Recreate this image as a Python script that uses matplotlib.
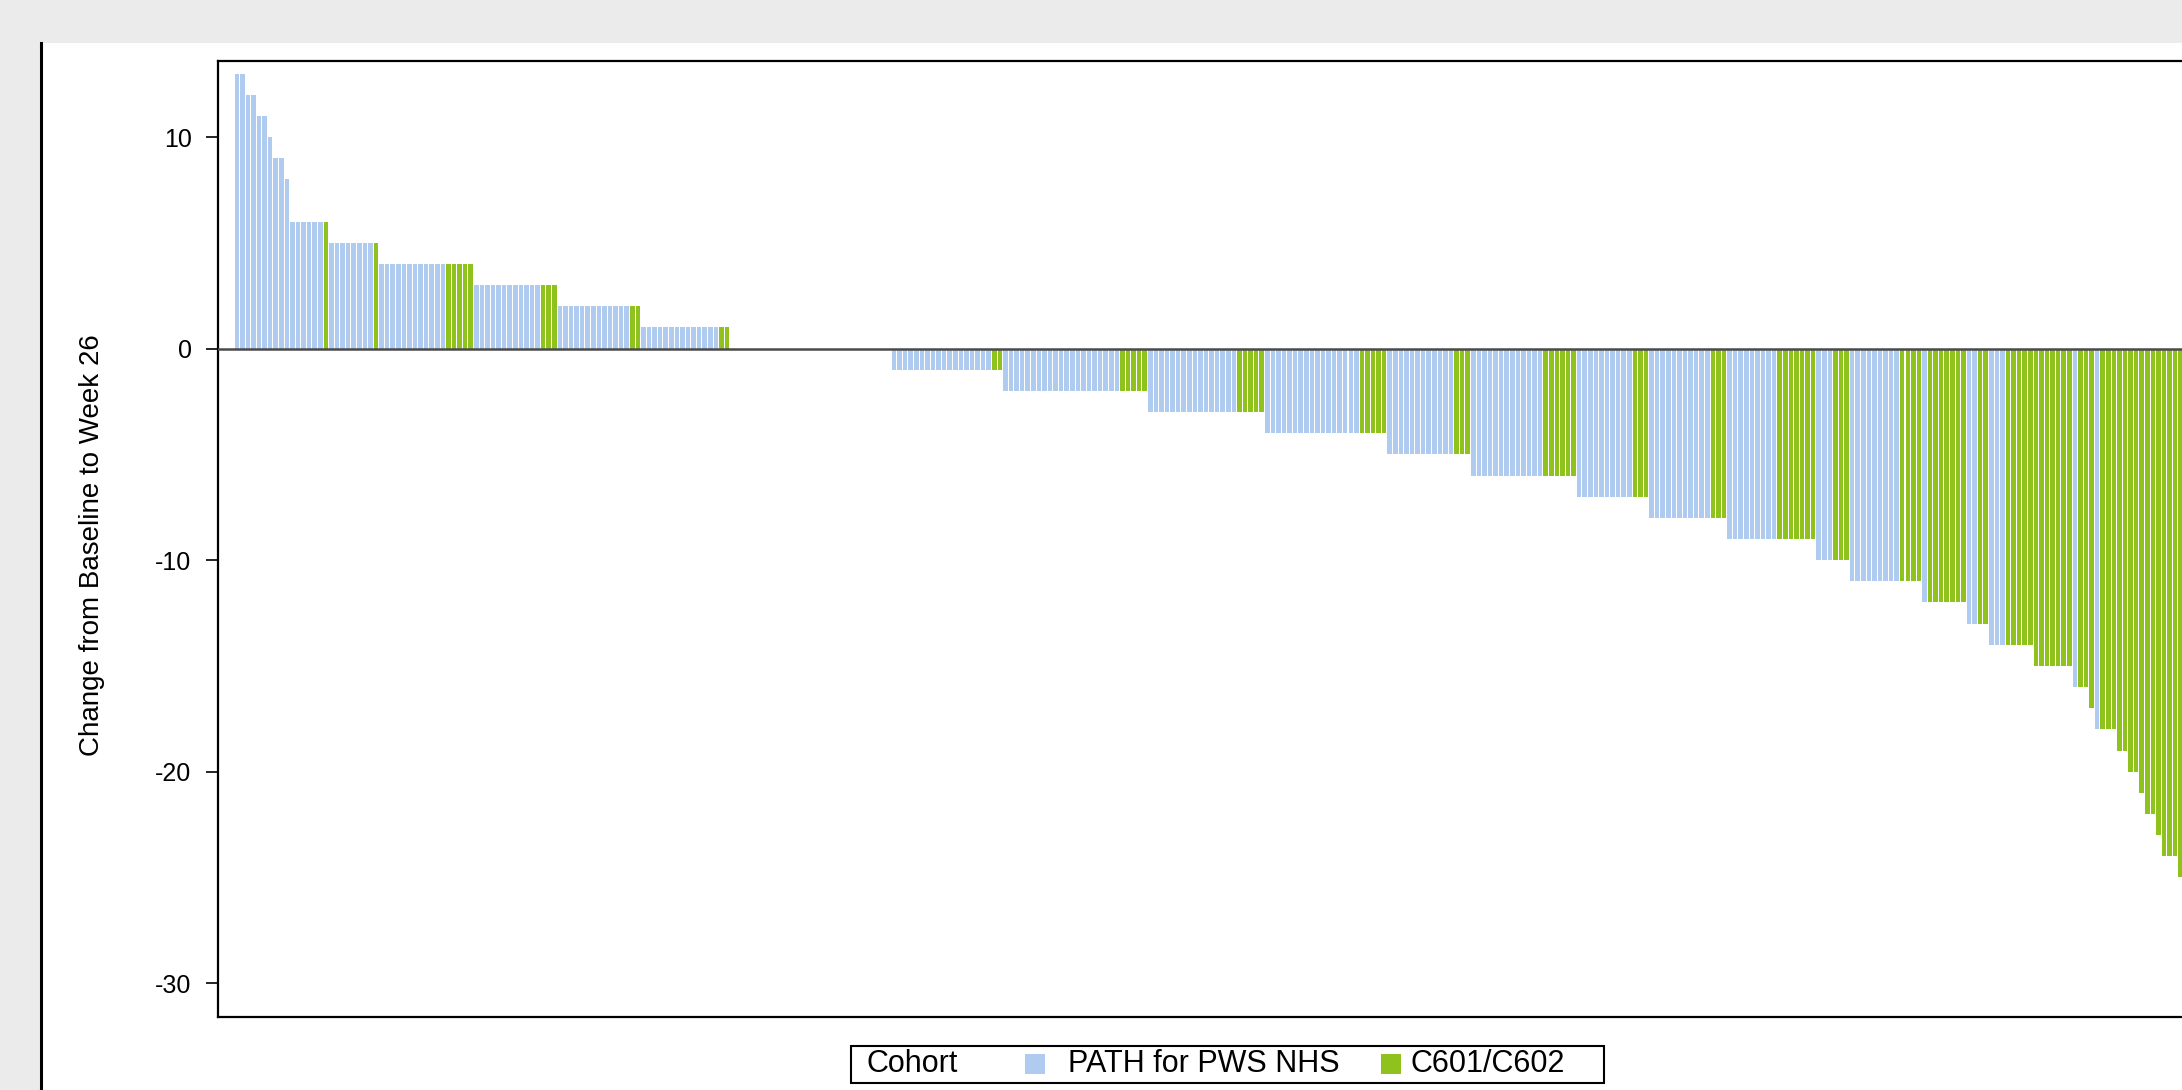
import numpy as np
import matplotlib
matplotlib.use("Agg")
import matplotlib.pyplot as plt
from matplotlib.patches import Rectangle
from matplotlib.lines import Line2D

plt.rcParams['font.family'] = ['Liberation Sans', 'DejaVu Sans']
plt.rcParams['axes.unicode_minus'] = False

# ---------------------------------------------------------------
# Datos: cambio desde basal a semana 26, agrupado por valor
# n_path = barras de PATH for PWS NHS, n_c60 = barras de C601/C602
# ---------------------------------------------------------------
change_values = [13, 12, 11, 10, 9, 8, 6, 5, 4, 3, 2, 1, 0,
                 -1, -2, -3, -4, -5, -6, -7, -8, -9, -10, -11, -12,
                 -13, -14, -15, -16, -17, -18, -19, -20, -21, -22,
                 -23, -24, -25]
n_path = [2, 2, 2, 1, 2, 1, 6, 8, 12, 12, 13, 14, 23,
          18, 21, 16, 17, 12, 13, 10, 11, 9, 3, 9, 1,
          2, 3, 0, 1, 0, 1, 0, 0, 0, 0,
          0, 0, 0]
n_c60 = [0, 0, 0, 0, 0, 0, 1, 1, 5, 3, 2, 2, 6,
         2, 5, 5, 5, 3, 6, 3, 3, 7, 3, 4, 7,
         2, 5, 7, 2, 1, 3, 2, 2, 1, 2,
         1, 3, 1]
cohort_names = ["PATH for PWS NHS", "C601/C602"]
cohort_colors = ["#b0cbf0", "#8fc21c"]

# expandir a una barra por paciente (PATH primero en cada valor)
vals = []
coh = []
for v, a, b in zip(change_values, n_path, n_c60):
    vals += [v] * (a + b)
    coh += [0] * a + [1] * b
vals = np.array(vals)
coh = np.array(coh)
x = np.arange(len(vals))

# ---------------------------------------------------------------
# Figura (coordenadas en pixeles)
# ---------------------------------------------------------------
W, H = 2182, 1090
fig = plt.figure(figsize=(W / 100, H / 100), dpi=100, facecolor="#ebebeb")


def fx(px):
    return px / W


def fy(py):
    return 1 - py / H


# panel blanco con borde izquierdo negro
fig.patches.append(Rectangle((fx(42), 0), 1 - fx(42), fy(43), transform=fig.transFigure,
                             facecolor="white", edgecolor="none", zorder=-10))
fig.lines.append(Line2D([fx(41), fx(41)], [0, fy(43)], transform=fig.transFigure,
                        color="black", lw=2.2, zorder=-5))

# ejes: el borde derecho queda fuera de la imagen
p = 5.57          # pixeles por barra
ax_left, ax_right = 218, 2215
ax = fig.add_axes([fx(ax_left), fy(1017), fx(ax_right - ax_left), (1017 - 61) / H])
ax.set_zorder(1)
ax.set_facecolor("white")

colors = [cohort_colors[c] for c in coh]
ax.bar(x, vals, width=0.82, color=colors, edgecolor="none", zorder=2)
ax.axhline(0, color="#4a4a4a", lw=1.8, zorder=3)

ax.set_xlim(-0.5 - (234 - ax_left) / p, -0.5 + (ax_right - 234) / p)
ax.set_ylim(-31.6, 13.6)
ax.set_yticks([-30, -20, -10, 0, 10])
ax.set_xticks([])
ax.tick_params(axis="y", direction="out", length=9, width=1.2, pad=10, labelsize=18)
for s in ax.spines.values():
    s.set_linewidth(1.6)
    s.set_color("black")

fig.text(fx(92), fy(545), "Change from Baseline to Week 26", rotation=90,
         ha="center", va="center", fontsize=20)

# ---------------------------------------------------------------
# Leyenda
# ---------------------------------------------------------------
ly = 1064
fig.patches.append(Rectangle((fx(851), fy(1083)), fx(1604 - 851), (1083 - 1046) / H,
                             transform=fig.transFigure, facecolor="white",
                             edgecolor="black", lw=1.5, zorder=5))
fig.text(fx(866), fy(ly), "Cohort", ha="left", va="center", fontsize=22, zorder=6)
sq_x = [1025, 1381]
txt_x = [1068, 1411]
for i in range(2):
    fig.patches.append(Rectangle((fx(sq_x[i]), fy(ly + 10)), fx(20), 20 / H,
                                 transform=fig.transFigure, facecolor=cohort_colors[i],
                                 edgecolor="none", zorder=6))
    fig.text(fx(txt_x[i]), fy(ly), cohort_names[i], ha="left", va="center",
             fontsize=22, zorder=6)

fig.savefig("out.png", dpi=100, facecolor=fig.get_facecolor())
